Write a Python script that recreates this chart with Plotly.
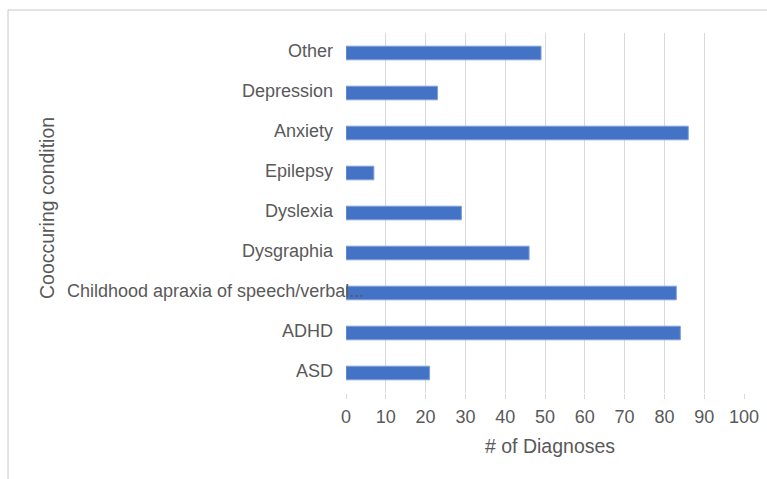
import plotly.graph_objects as go

# Co-occurring conditions, listed bottom-to-top as drawn on the category axis
conditions = ["ASD", "ADHD", "Childhood apraxia of speech/verbal...", "Dysgraphia",
              "Dyslexia", "Epilepsy", "Anxiety", "Depression", "Other"]
diagnoses = [21, 84, 83, 46, 29, 7, 86, 23, 49]
x_ticks = list(range(0, 101, 10))

long_label = "Childhood apraxia of speech/verbal..."
tick_text = ["" if c == long_label else c for c in conditions]

W, H = 767, 479
ML, MR, MT, MB = 346, 23, 33, 86
PW, PH = W - ML - MR, H - MT - MB


def px_x(p):
    return (p - ML) / PW


def px_y(p):
    return (H - MB - p) / PH


TEXT = "#595959"
GRID = "#d9d9d9"
FONT = "Liberation Sans, Arial, Helvetica, sans-serif"

fig = go.Figure(go.Bar(
    x=diagnoses, y=conditions, orientation="h", width=0.34,
    marker=dict(color="#4472C4", line=dict(color="#7fa0db", width=1)),
))

fig.update_layout(
    width=W, height=H,
    margin=dict(l=ML, r=MR, t=MT, b=MB, autoexpand=False),
    paper_bgcolor="white", plot_bgcolor="white",
    showlegend=False,
    font=dict(family=FONT, size=18, color=TEXT),
    xaxis=dict(range=[0, 100], tickvals=x_ticks, showgrid=True, gridcolor=GRID,
               gridwidth=1, zeroline=False, showline=False, ticks="outside",
               ticklen=5, tickcolor=GRID, ticklabelstandoff=2,
               tickfont=dict(size=18, color=TEXT)),
    yaxis=dict(categoryorder="array", categoryarray=conditions,
               tickvals=conditions, ticktext=tick_text, showgrid=False,
               zeroline=False, showline=False, ticks="", ticklabelstandoff=12,
               ticklabelshift=-2, tickfont=dict(size=18, color=TEXT)),
    shapes=[dict(type="rect", xref="paper", yref="paper",
                 x0=px_x(8), x1=px_x(W + 20), y0=px_y(10), y1=px_y(H + 20),
                 line=dict(color="#c8c8c8", width=1), fillcolor="rgba(0,0,0,0)",
                 layer="below")],
    annotations=[
        dict(text=long_label, xref="paper", yref="y", x=px_x(65), y=long_label,
             xanchor="left", yanchor="middle", yshift=2, showarrow=False,
             font=dict(size=18, color=TEXT)),
        dict(text="Cooccuring condition", xref="paper", yref="paper",
             x=px_x(47), y=px_y(208), textangle=-90, xanchor="center",
             yanchor="middle", showarrow=False, font=dict(size=19.5, color=TEXT)),
        dict(text="# of Diagnoses", xref="paper", yref="paper",
             x=px_x(550), y=px_y(446), xanchor="center", yanchor="middle",
             showarrow=False, font=dict(size=19.5, color=TEXT)),
    ],
)

fig.write_html("out.html")
